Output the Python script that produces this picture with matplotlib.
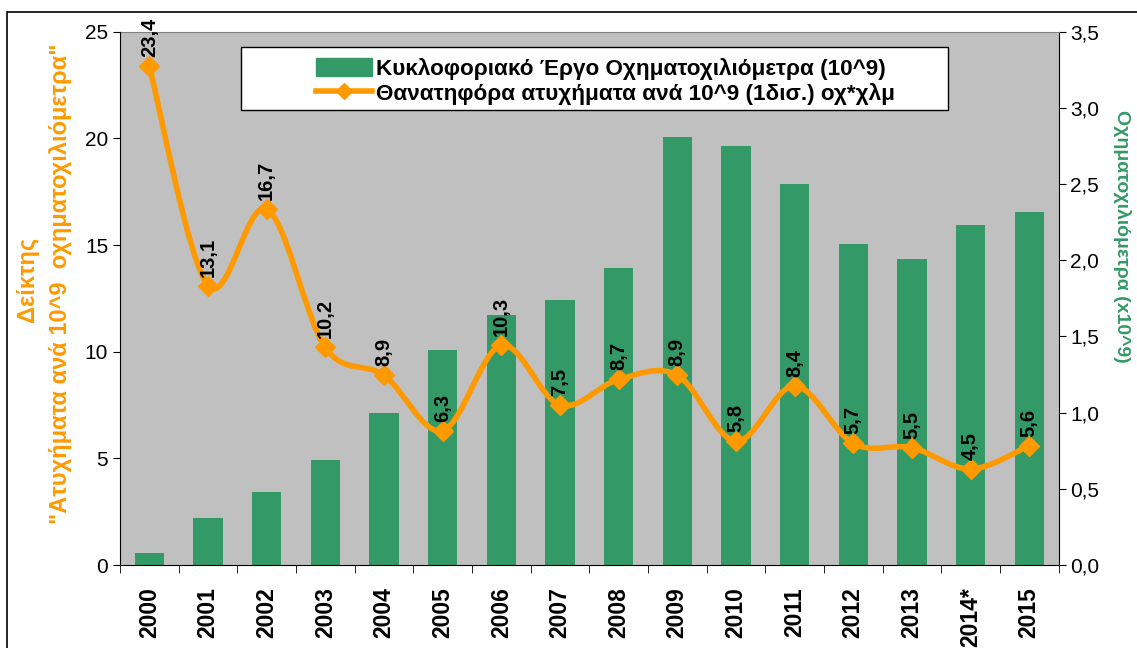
import numpy as np
import matplotlib
matplotlib.use("Agg")
from matplotlib import pyplot as plt
from matplotlib.path import Path
from matplotlib.patches import PathPatch, Rectangle
from matplotlib.lines import Line2D

plt.rcParams['font.family'] = ['Liberation Sans', 'DejaVu Sans']

years = ['2000', '2001', '2002', '2003', '2004', '2005', '2006', '2007',
         '2008', '2009', '2010', '2011', '2012', '2013', '2014*', '2015']
vkm = [0.08, 0.31, 0.48, 0.69, 1.00, 1.41, 1.64, 1.74,
       1.95, 2.81, 2.75, 2.50, 2.11, 2.01, 2.23, 2.32]
fatal = [23.4, 13.1, 16.7, 10.2, 8.9, 6.3, 10.3, 7.5,
         8.7, 8.9, 5.8, 8.4, 5.7, 5.5, 4.5, 5.6]

ORANGE = '#FF9900'
GREEN = '#339966'

fig = plt.figure(figsize=(11.37, 6.48), dpi=100)
ax = fig.add_axes([0.1055, 0.128, 0.8255, 0.823])
ax2 = ax.twinx()
ax.set_zorder(ax2.get_zorder() + 1)
ax.patch.set_visible(False)
ax2.patch.set_visible(True)
ax2.patch.set_facecolor('#C0C0C0')

x = np.arange(len(years))

# bars on right axis
ax2.bar(x, vkm, width=0.5, color=GREEN, zorder=2)
ax2.set_ylim(0, 3.5)
rticks = np.arange(0, 3.51, 0.5)
ax2.set_yticks(rticks)
ax2.set_yticklabels([f'{v:.1f}'.replace('.', ',') for v in rticks])

# smoothed line (bezier through the points)
pts = np.column_stack([x, fatal]).astype(float)
verts = [tuple(pts[0])]
codes = [Path.MOVETO]
n = len(pts)
for i in range(n - 1):
    p0 = pts[max(i - 1, 0)]
    p1 = pts[i]
    p2 = pts[i + 1]
    p3 = pts[min(i + 2, n - 1)]
    c1 = p1 + (p2 - p0) / 6.0
    c2 = p2 - (p3 - p1) / 6.0
    verts += [tuple(c1), tuple(c2), tuple(p2)]
    codes += [Path.CURVE4] * 3
ax.add_patch(PathPatch(Path(verts, codes), facecolor='none', edgecolor=ORANGE,
                       lw=4, capstyle='round', joinstyle='round', zorder=3))
ax.plot(x, fatal, linestyle='none', marker='D', ms=10, color=ORANGE, zorder=4)

for xi, v in zip(x, fatal):
    ax.annotate(f'{v:.1f}'.replace('.', ','), (xi, v), xytext=(0, 6.5),
                textcoords='offset points', rotation=90, ha='center', va='bottom',
                fontsize=14.5, fontweight='bold', zorder=5, annotation_clip=False)

ax.set_xlim(-0.5, len(years) - 0.5)
ax.set_ylim(0, 25)
ax.set_yticks(range(0, 26, 5))
ax.tick_params(axis='y', labelsize=15, direction='out', length=5)
ax2.tick_params(axis='y', labelsize=15, direction='out', length=5)

ax.set_xticks(x)
ax.set_xticklabels(years, rotation=90, fontsize=16.5, fontweight='bold')
ax.set_xticks(np.arange(-0.5, len(years), 1), minor=True)
ax.tick_params(axis='x', which='major', length=0, pad=16)
ax.tick_params(axis='x', which='minor', length=6, direction='out')

for a in (ax, ax2):
    a.spines['right'].set_visible(False)
    a.spines['top'].set_visible(False)
ax2.spines['top'].set_visible(True)
ax2.spines['top'].set_color('#808080')
ax2.spines['right'].set_visible(True)
ax2.spines['left'].set_visible(False)
ax2.spines['bottom'].set_visible(False)

# legend box and entries
ax.add_patch(Rectangle((0.1289, 0.8537), 0.753, 0.1182, transform=ax.transAxes,
                       facecolor='white', edgecolor='black', lw=1.0, zorder=9))
handles = [Rectangle((0, 0), 1, 1, color=GREEN),
           Line2D([0], [0], color=ORANGE, lw=4, marker='D', ms=8)]
labels = ['Κυκλοφοριακό Έργο Οχηματοχιλιόμετρα (10^9)',
          'Θανατηφόρα ατυχήματα ανά 10^9 (1δισ.) οχ*χλμ']
leg = ax.legend(handles, labels, loc='upper left', bbox_to_anchor=(0.209, 0.951),
                frameon=False, prop={'size': 16.2, 'weight': 'bold'},
                handlelength=2.5, handleheight=0.8, borderpad=0, borderaxespad=0,
                labelspacing=0.12, handletextpad=0.15)
leg.set_zorder(10)

# axis titles
fig.text(0.024, 0.568, 'Δείκτης', rotation=90, color=ORANGE, fontsize=17,
         fontweight='bold', ha='center', va='center')
fig.text(0.053, 0.562, '"Ατυχήματα ανά 10^9  οχηματοχιλιόμετρα"', rotation=90,
         color=ORANGE, fontsize=17, fontweight='bold', ha='center', va='center')
fig.text(0.987, 0.635, 'Οχηματοχιλιόμετρα (x10^9)', rotation=270, color=GREEN,
         fontsize=14, fontweight='bold', ha='center', va='center')

# outer frame
fig.patches.append(Rectangle((7 / 1137, -0.05), 1.1, 0.05 + (648 - 12) / 648,
                             transform=fig.transFigure, fill=False,
                             edgecolor='black', lw=1.2))

fig.savefig('out.png', dpi=100)
